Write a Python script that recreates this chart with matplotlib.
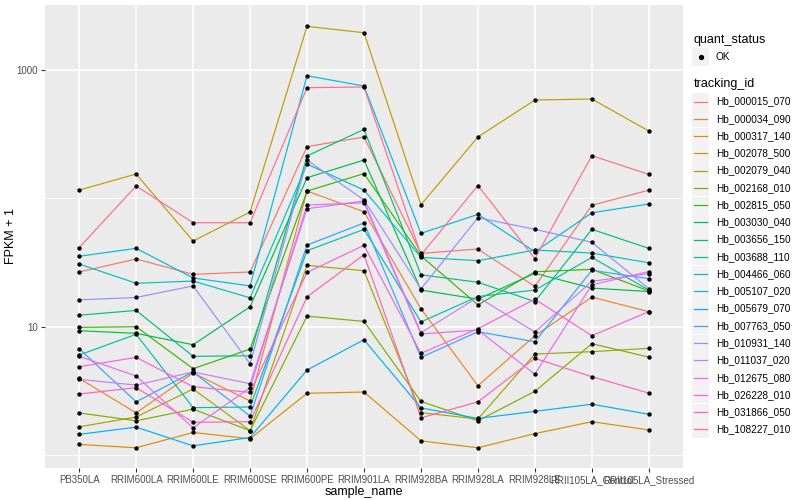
import matplotlib
matplotlib.use("Agg")
import matplotlib.pyplot as plt
from matplotlib.lines import Line2D
from matplotlib.patches import Rectangle
from matplotlib.ticker import FixedLocator, NullFormatter

plt.rcParams['font.family'] = ['Liberation Sans', 'DejaVu Sans']

# --------------------------------------------------
# data (FPKM + 1)
# --------------------------------------------------
samples = ["PB350LA", "RRIM600LA", "RRIM600LE", "RRIM600SE", "RRIM600PE",
           "RRIM901LA", "RRIM928BA", "RRIM928LA", "RRIM928LE",
           "RRII105LA_Control", "RRII105LA_Stressed"]

tracking_ids = ["Hb_000015_070", "Hb_000034_090", "Hb_000317_140", "Hb_002078_500",
                "Hb_002079_040", "Hb_002168_010", "Hb_002815_050", "Hb_003030_040",
                "Hb_003656_150", "Hb_003688_110", "Hb_004466_060", "Hb_005107_020",
                "Hb_005679_070", "Hb_007763_050", "Hb_010931_140", "Hb_011037_020",
                "Hb_012675_080", "Hb_026228_010", "Hb_031866_050", "Hb_108227_010"]

Hb_000015_070 = [26.7, 33.7, 25.6, 26.7, 253, 301, 37.3, 40.3, 20.6, 88.3, 116]
Hb_000034_090 = [3.96, 2.13, 4.36, 2.64, 114, 78.7, 13.8, 3.47, 8.51, 17.0, 13.1]
Hb_000317_140 = [1.21, 1.14, 1.50, 1.34, 3.03, 3.10, 1.29, 1.14, 1.47, 1.82, 1.57]
Hb_002078_500 = [116, 155, 46.5, 78.3, 2192, 1954, 89.3, 301, 584, 595, 335]
Hb_002079_040 = [1.66, 1.98, 3.27, 1.55, 30.1, 27.3, 2.14, 1.91, 6.13, 6.39, 6.79]
Hb_002168_010 = [2.13, 1.85, 2.28, 1.55, 12.1, 11.0, 2.62, 1.85, 3.14, 7.37, 5.80]
Hb_002815_050 = [9.89, 10.0, 4.71, 6.70, 114, 156, 35.6, 14.8, 26.8, 28.0, 19.0]
Hb_003030_040 = [9.31, 8.88, 7.24, 14.3, 145, 199, 19.3, 16.4, 26.1, 20.0, 18.8]
Hb_003656_150 = [12.3, 13.4, 5.88, 5.94, 214, 345, 25.4, 22.2, 15.7, 57.4, 40.8]
Hb_003688_110 = [6.02, 8.73, 2.34, 2.37, 39.1, 57.4, 10.9, 17.2, 19.3, 34.7, 19.3]
Hb_004466_060 = [30.8, 21.8, 22.7, 16.8, 185, 116, 34.7, 32.7, 39.6, 37.5, 31.5]
Hb_005107_020 = [35.4, 40.8, 24.0, 20.8, 903, 751, 53.4, 75.1, 38.4, 77.3, 90.4]
Hb_005679_070 = [1.45, 1.65, 1.18, 1.37, 4.60, 7.92, 2.33, 1.93, 2.19, 2.49, 2.08]
Hb_007763_050 = [6.74, 2.60, 4.44, 2.01, 43.3, 64.3, 5.77, 9.14, 7.64, 27.5, 23.7]
Hb_010931_140 = [16.2, 16.9, 20.8, 5.15, 199, 97.1, 19.7, 70.7, 57.4, 45.5, 19.8]
Hb_011037_020 = [3.89, 3.51, 4.44, 3.60, 83.1, 95.4, 8.98, 17.0, 9.09, 22.6, 25.9]
Hb_012675_080 = [5.88, 4.13, 1.63, 3.35, 88.8, 92.5, 8.78, 9.43, 4.26, 21.2, 26.9]
Hb_026228_010 = [4.88, 5.77, 3.41, 3.08, 26.5, 43.1, 6.20, 9.65, 16.4, 8.51, 13.1]
Hb_031866_050 = [2.99, 3.35, 1.80, 1.82, 17.1, 36.4, 1.95, 2.60, 5.67, 4.08, 3.04]
Hb_108227_010 = [41.3, 125, 64.6, 64.6, 729, 738, 36.2, 126, 33.9, 215, 154]

series = [Hb_000015_070, Hb_000034_090, Hb_000317_140, Hb_002078_500,
          Hb_002079_040, Hb_002168_010, Hb_002815_050, Hb_003030_040,
          Hb_003656_150, Hb_003688_110, Hb_004466_060, Hb_005107_020,
          Hb_005679_070, Hb_007763_050, Hb_010931_140, Hb_011037_020,
          Hb_012675_080, Hb_026228_010, Hb_031866_050, Hb_108227_010]

# ggplot2 default hue palette, 20 levels
colors = ["#F8766D", "#EA8331", "#D89000", "#C09B00", "#A3A500", "#7CAE00",
          "#39B600", "#00BB4E", "#00BF7D", "#00C1A3", "#00BFC4", "#00BAE0",
          "#00B0F6", "#35A2FF", "#9590FF", "#C77CFF", "#E76BF3", "#FA62DB",
          "#FF62BC", "#FF6C91"]

# --------------------------------------------------
# plot
# --------------------------------------------------
fig = plt.figure(figsize=(8, 5), dpi=100)
ax = fig.add_axes([45 / 800, 1 - 468 / 500, (683 - 45) / 800, (468 - 5) / 500])
ax.set_facecolor("#EBEBEB")

x = list(range(len(samples)))
for vals, col in zip(series, colors):
    ax.plot(x, vals, color=col, lw=0.85, zorder=3)
    ax.scatter(x, vals, color="black", s=10, zorder=4, linewidths=0)

ax.set_yscale("log")
ax.set_ylim(0.793, 3213)
ax.set_xlim(-0.6, len(samples) - 0.4)
ax.yaxis.set_major_locator(FixedLocator([10, 1000]))
ax.yaxis.set_minor_locator(FixedLocator([1, 100]))
ax.yaxis.set_minor_formatter(NullFormatter())
ax.set_yticklabels(["10", "1000"])
ax.set_xticks(x)
ax.set_xticklabels(samples)

ax.grid(which="major", color="white", lw=1.1, zorder=0)
ax.grid(which="minor", axis="y", color="white", lw=0.55, zorder=0)
ax.set_axisbelow(True)
for s in ax.spines.values():
    s.set_visible(False)
ax.tick_params(which="major", length=3, width=0.8, color="#333333",
               labelcolor="#4D4D4D", labelsize=7, pad=2)
ax.tick_params(which="minor", length=0)

ax.set_xlabel("sample_name", fontsize=9, labelpad=1)
ax.set_ylabel("FPKM + 1", fontsize=9)
ax.yaxis.set_label_coords((17 - 45) / 638, 0.5)

# --------------------------------------------------
# legends (drawn by hand, ggplot style)
# --------------------------------------------------
def px(xp, yp):
    return xp / 800, 1 - yp / 500

fig.text(*px(694, 40), "quant_status", fontsize=9, va="center", ha="left")
kx, kw = 692, 17
fig.add_artist(Rectangle(px(kx, 57 + kw / 2), kw / 800, kw / 500,
                         facecolor="#F2F2F2", edgecolor="none"))
fig.add_artist(Line2D([px(kx + kw / 2, 57)[0]], [px(kx + kw / 2, 57)[1]],
                      marker="o", color="black", markersize=2.8, linestyle="none"))
fig.text(*px(716, 57), "OK", fontsize=7.2, va="center", ha="left")

fig.text(*px(694, 84), "tracking_id", fontsize=9, va="center", ha="left")
for i, (tid, col) in enumerate(zip(tracking_ids, colors)):
    yc = 101.5 + i * 17.26
    fig.add_artist(Rectangle(px(kx, yc + kw / 2), kw / 800, kw / 500,
                             facecolor="#F2F2F2", edgecolor="none"))
    x0, y0 = px(kx + 2, yc)
    x1, _ = px(kx + kw - 2, yc)
    fig.add_artist(Line2D([x0, x1], [y0, y0], color=col, lw=0.9))
    fig.text(*px(716, yc), tid, fontsize=7.2, va="center", ha="left")

fig.savefig("out.png", dpi=100)
